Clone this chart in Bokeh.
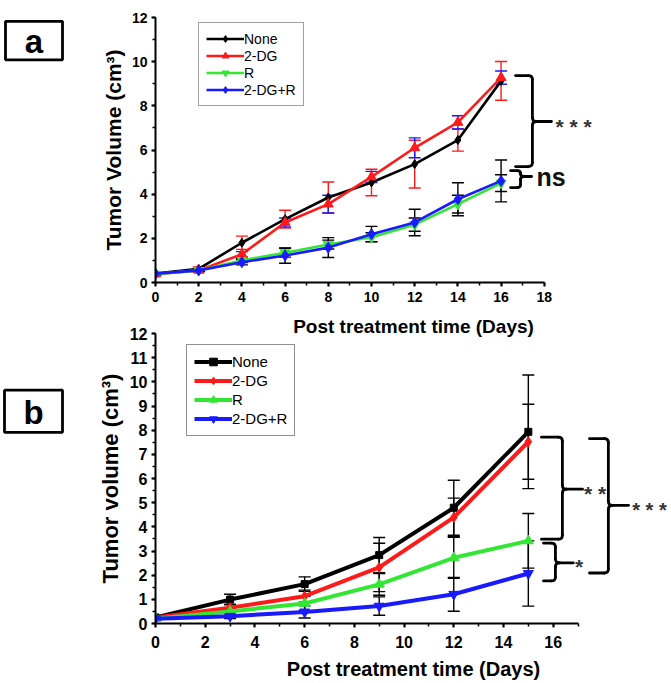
from bokeh.plotting import figure
from bokeh.models import (Range1d, SingleIntervalTicker, Legend, LegendItem, Label,
                          Whisker, TeeHead, ColumnDataSource)
from bokeh.core.properties import value
from bokeh.layouts import column, row
from bokeh.embed import file_html
from bokeh.resources import INLINE

# ---------------- data : panel a ----------------
days_a = [0, 2, 4, 6, 8, 10, 12, 14, 16]
none_a = [0.40, 0.62, 1.80, 2.87, 3.85, 4.53, 5.36, 6.45, 9.13]
dg_a = [0.38, 0.55, 1.28, 2.72, 3.55, 4.78, 6.10, 7.25, 9.28]
r_a = [0.38, 0.55, 1.00, 1.35, 1.72, 2.05, 2.62, 3.55, 4.50]
dgr_a = [0.40, 0.55, 0.92, 1.22, 1.58, 2.19, 2.72, 3.77, 4.60]
none_err_a = [0.03, 0.08, 0.30, 0.40, 0.70, 0.60, 1.08, 0.50, 0.88]
dg_err_a = [0.03, 0.05, 0.12, 0.20, 0.40, 0.25, 0.45, 0.30, 0.30]
r_err_a = [0.03, 0.05, 0.10, 0.20, 0.20, 0.20, 0.30, 0.40, 0.38]
dgr_err_a = [0.03, 0.05, 0.12, 0.35, 0.45, 0.35, 0.60, 0.75, 0.95]

# ---------------- data : panel b ----------------
days_b = [0, 3, 6, 9, 12, 15]
none_b = [0.25, 0.99, 1.63, 2.83, 4.79, 7.93]
dg_b = [0.25, 0.65, 1.13, 2.32, 4.39, 7.52]
r_b = [0.20, 0.50, 0.83, 1.62, 2.72, 3.42]
dgr_b = [0.20, 0.30, 0.48, 0.72, 1.21, 2.07]
none_err_b = [0.05, 0.22, 0.30, 0.73, 1.14, 2.35]
dg_err_b = [0.05, 0.15, 0.25, 1.00, 0.80, 1.55]
r_err_b = [0.05, 0.15, 0.30, 0.45, 0.85, 1.13]
dgr_err_b = [0.05, 0.10, 0.25, 0.38, 0.70, 1.35]

series_names = ["None", "2-DG", "R", "2-DG+R"]

FONT = "Liberation Sans"
BLACK = "#000000"
RED = "#ff1a1a"
GREEN = "#33e633"
BLUE = "#1a1aff"

HA = 344   # height of panel a figure
HB = 358   # height of panel b figure


def style_axes(p, xbounds, ybounds, xint, yint, tick_size, xtitle_size, ytitle_size,
               xlabel, ylabel, xl_standoff, yl_standoff, xmaj_standoff):
    p.grid.visible = False
    p.outline_line_color = None
    p.background_fill_color = None
    p.border_fill_color = None
    for ax in (p.xaxis[0], p.yaxis[0]):
        ax.axis_line_width = 2
        ax.axis_line_color = BLACK
        ax.major_tick_line_width = 2
        ax.minor_tick_line_width = 1.5
        ax.major_tick_in = 0
        ax.major_tick_out = 4
        ax.minor_tick_in = 0
        ax.minor_tick_out = 3
        ax.major_label_text_font = FONT
        ax.major_label_text_font_style = "bold"
        ax.major_label_text_font_size = tick_size
        ax.major_label_text_color = BLACK
        ax.axis_label_text_font = FONT
        ax.axis_label_text_font_style = "bold"
        ax.axis_label_text_color = BLACK
    p.xaxis[0].axis_label_text_font_size = xtitle_size
    p.yaxis[0].axis_label_text_font_size = ytitle_size
    p.xaxis[0].major_label_standoff = xmaj_standoff
    p.yaxis[0].major_label_standoff = 4
    p.xaxis[0].bounds = xbounds
    p.yaxis[0].bounds = ybounds
    p.xaxis[0].ticker = SingleIntervalTicker(interval=xint, num_minor_ticks=2)
    p.yaxis[0].ticker = SingleIntervalTicker(interval=yint, num_minor_ticks=2)
    p.xaxis[0].axis_label = xlabel
    p.yaxis[0].axis_label = ylabel
    p.xaxis[0].axis_label_standoff = xl_standoff
    p.yaxis[0].axis_label_standoff = yl_standoff


def error_bars(p, x, y, err, color, cap, lw):
    src = ColumnDataSource(dict(x=x, upper=[a + b for a, b in zip(y, err)],
                                lower=[a - b for a, b in zip(y, err)]))
    w = Whisker(source=src, base="x", upper="upper", lower="lower", dimension="height",
                line_color=color, line_width=lw,
                upper_head=TeeHead(size=cap, line_color=color, line_width=lw),
                lower_head=TeeHead(size=cap, line_color=color, line_width=lw))
    p.add_layout(w)


def brace(p, xl, xm, xt, yt, yb, ym, rx, ry, lw=2.8):
    p.segment(x0=[xl, xm, xm, xm + rx, xm - rx],
              y0=[yt, yt - ry, ym - ry, ym, yb],
              x1=[xm - rx, xm, xm, xt, xl],
              y1=[yt, ym + ry, yb + ry, ym, yb],
              line_color=BLACK, line_width=lw, line_cap="round")
    p.quadratic(x0=[xm - rx, xm, xm, xm], y0=[yt, ym + ry, ym - ry, yb + ry],
                x1=[xm, xm + rx, xm + rx, xm - rx], y1=[yt - ry, ym, ym, yb],
                cx=[xm, xm, xm, xm], cy=[yt, ym, ym, yb],
                line_color=BLACK, line_width=lw, line_cap="round")


def text_label(p, x, y, txt, size, bold=False, color="#111111"):
    p.add_layout(Label(x=x, y=y, text=txt, text_align="left", text_baseline="middle",
                       text_font=FONT, text_font_style="bold" if bold else "normal",
                       text_font_size=size, text_color=color))


def letter_fig(h, cx, cy, bw, bh, txt):
    f = figure(width=70, height=h, x_range=Range1d(0, 70), y_range=Range1d(h, 0),
               min_border=0, output_backend="svg", toolbar_location=None)
    f.axis.visible = False
    f.grid.visible = False
    f.outline_line_color = None
    f.rect(x=[cx], y=[cy], width=[bw], height=[bh], fill_color=None,
           line_color=BLACK, line_width=2.8)
    f.text(x=[cx], y=[cy + 1], text=[txt], text_align="center", text_baseline="middle",
           text_font=value(FONT), text_font_style="bold", text_font_size="33px",
           text_color=BLACK)
    return f


# ================= panel a =================
pa = figure(x_range=Range1d(0, 23.89), y_range=Range1d(0, 12),
            frame_width=516, frame_height=265,
            min_border_left=85, min_border_right=0, min_border_top=17,
            min_border_bottom=HA - 17 - 265,
            output_backend="svg", toolbar_location=None)
style_axes(pa, (0, 18), (0, 12), 2, 2, "14px", "19px", "21px",
           "Post treatment time (Days)", "Tumor Volume (cm³)", 11, 4, 5)

error_bars(pa, days_a, none_a, none_err_a, RED, 12, 1.4)
error_bars(pa, days_a, dg_a, dg_err_a, BLUE, 12, 1.4)
error_bars(pa, days_a, r_a, r_err_a, BLACK, 12, 1.4)
error_bars(pa, days_a, dgr_a, dgr_err_a, BLACK, 12, 1.4)

lw_a = 2.6
items_a = []
for name, ys, col, mk, ms in [(series_names[0], none_a, BLACK, "diamond", 9),
                              (series_names[1], dg_a, RED, "triangle", 10),
                              (series_names[2], r_a, GREEN, "inverted_triangle", 10),
                              (series_names[3], dgr_a, BLUE, "diamond", 11)]:
    l = pa.line(days_a, ys, line_color=col, line_width=lw_a)
    s = pa.scatter(days_a, ys, marker=mk, size=ms, fill_color=col, line_color=col)
    items_a.append(LegendItem(label=name, renderers=[l, s]))
leg_a = Legend(items=items_a, location=(43, 176), label_text_font=FONT,
               label_text_font_size="14px", label_text_color=BLACK,
               glyph_width=38, glyph_height=17, label_height=17, spacing=0,
               padding=7, label_standoff=0, margin=0,
               border_line_color="#444444", border_line_width=1.2,
               background_fill_color="white", background_fill_alpha=1)
pa.add_layout(leg_a)

# significance braces (panel a)
brace(pa, 16.67, 17.45, 18.33, 9.37, 5.25, 7.29, 0.19, 0.18)
text_label(pa, 18.52, 7.05, "* * *", "21px", bold=True, color="#333333")
brace(pa, 16.44, 16.90, 17.41, 5.07, 4.30, 4.80, 0.15, 0.14)
text_label(pa, 17.64, 4.80, "ns", "25px", bold=True)

box_a = letter_fig(HA, 33.5, 30, 57, 50, "a")

# ================= panel b =================
pb = figure(x_range=Range1d(0, 20.76), y_range=Range1d(0, 12),
            frame_width=516, frame_height=290,
            min_border_left=85, min_border_right=0, min_border_top=8,
            min_border_bottom=HB - 8 - 290,
            output_backend="svg", toolbar_location=None)
style_axes(pb, (0, 17), (0, 12), 2, 1, "16px", "20px", "22px",
           "Post treatment time (Days)", "Tumor volume (cm³)", 7, 4, 8)

error_bars(pb, days_b, none_b, none_err_b, BLACK, 12, 1.4)
error_bars(pb, days_b, dg_b, dg_err_b, BLACK, 12, 1.4)
error_bars(pb, days_b, r_b, r_err_b, BLACK, 12, 1.4)
error_bars(pb, days_b, dgr_b, dgr_err_b, BLACK, 12, 1.4)

lw_b = 4
items_b = []
for name, ys, col, mk, ms in [(series_names[0], none_b, BLACK, "square", 7),
                              (series_names[1], dg_b, RED, "diamond", 10),
                              (series_names[2], r_b, GREEN, "triangle", 10),
                              (series_names[3], dgr_b, BLUE, "inverted_triangle", 10)]:
    l = pb.line(days_b, ys, line_color=col, line_width=lw_b)
    s = pb.scatter(days_b, ys, marker=mk, size=ms, fill_color=col, line_color=col)
    items_b.append(LegendItem(label=name, renderers=[l, s]))
leg_b = Legend(items=items_b, location=(31, 187), label_text_font=FONT,
               label_text_font_size="15px", label_text_color=BLACK,
               glyph_width=38, glyph_height=19, label_height=19, spacing=0,
               padding=7, label_standoff=0, margin=0,
               border_line_color="#222222", border_line_width=1.2,
               background_fill_color="white", background_fill_alpha=1)
pb.add_layout(leg_b)

# significance braces (panel b)
brace(pb, 15.53, 16.37, 17.18, 7.71, 3.49, 5.56, 0.16, 0.165)
text_label(pb, 17.24, 5.36, "* *", "21px", bold=True, color="#333333")
brace(pb, 15.61, 16.09, 16.81, 3.33, 1.76, 2.51, 0.16, 0.165)
text_label(pb, 16.88, 2.36, "*", "21px", bold=True, color="#333333")
brace(pb, 17.46, 18.22, 19.03, 7.65, 2.09, 4.89, 0.16, 0.165)
text_label(pb, 19.18, 4.70, "* * *", "20px", bold=True, color="#333333")

box_b = letter_fig(HB, 33, 421 - (HA - 19), 58, 52, "b")

row_a = row(box_a, pa)
row_b = row(box_b, pb)
row_b.margin = (-19, 0, 0, 0)

layout = column(row_a, row_b)
open("out.html", "w").write(file_html(layout, INLINE))
